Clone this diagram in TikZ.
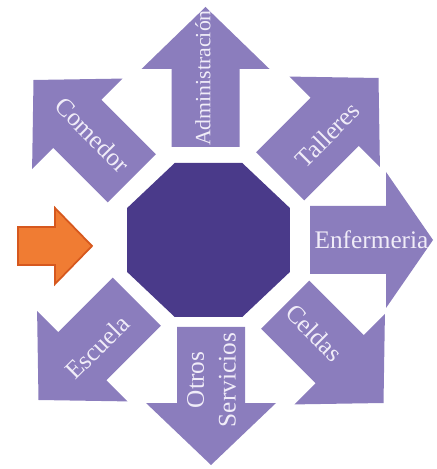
\documentclass[tikz,border=0pt]{standalone}
\usepackage{fontspec}
\setmainfont{Liberation Serif}
\usetikzlibrary{shapes.geometric}

\definecolor{lila}{RGB}{139,125,189}
\definecolor{morado}{RGB}{74,58,138}
\definecolor{naranja}{RGB}{240,124,51}
\definecolor{naranjaosc}{RGB}{214,88,30}
\definecolor{letra}{RGB}{240,236,248}

\begin{document}
\begin{tikzpicture}[flecha/.style={fill=lila,draw=none},
	entrada/.style={fill=naranja,draw=naranjaosc,line width=0.5pt,line join=miter},
	etiq/.style={text=letra,inner sep=0pt,font=\fontsize{7.2}{9}\selectfont},
	centro/.style={draw=none,fill=morado,regular polygon,regular polygon sides=8,
		minimum size=1.667cm,inner sep=0pt,xscale=1.058,transform shape}]
	\useasboundingbox (-2.085,-2.29) rectangle (2.275,2.40);
	\node[centro] (oct) at (0,0) {};
	% flechas: punta x/y, angulo, largo cabeza, media cabeza, largo total
	\foreach \px/\py/\ang/\hl/\hw/\lt in {-0.03/2.33/90/0.62/0.64/1.40,
		1.70/1.62/45/0.62/0.64/1.39, 2.245/0.0/0/0.47/0.68/1.23,
		1.75/-1.63/-45/0.62/0.64/1.39, 0.025/-2.25/-90/0.62/0.65/1.38,
		-1.70/-1.60/-135/0.62/0.64/1.39, -1.75/1.60/135/0.62/0.64/1.39}
	{
		\fill[flecha,shift={(\px,\py)},rotate=\ang] (0,0) -- (-\hl,\hw) -- (-\hl,0.34)
			-- (-\lt,0.34) -- (-\lt,-0.34) -- (-\hl,-0.34) -- (-\hl,-\hw) -- cycle;
	}
	% flecha naranja
	\draw[entrada] (-1.905,0.13) -- (-1.535,0.13) -- (-1.535,0.32) -- (-1.165,-0.06)
		-- (-1.535,-0.44) -- (-1.535,-0.25) -- (-1.905,-0.25) -- cycle;
	% textos
	\node[etiq,rotate=90,font=\fontsize{6.2}{7.5}\selectfont] (adm) at (-0.055,1.62) {Administración};
	\node[etiq,rotate=-45] (com) at (-1.16,1.05) {Comedor};
	\node[etiq,rotate=45] (tal) at (1.19,1.05) {Talleres};
	\node[etiq] (enf) at (1.63,0) {Enfermeria};
	\node[etiq,rotate=-45] (cel) at (1.06,-0.93) {Celdas};
	\node[etiq,rotate=90,align=center] (otr) at (0.03,-1.40) {Otros\\Servicios};
	\node[etiq,rotate=45] (esc) at (-1.11,-1.07) {Escuela};
\end{tikzpicture}
\end{document}
